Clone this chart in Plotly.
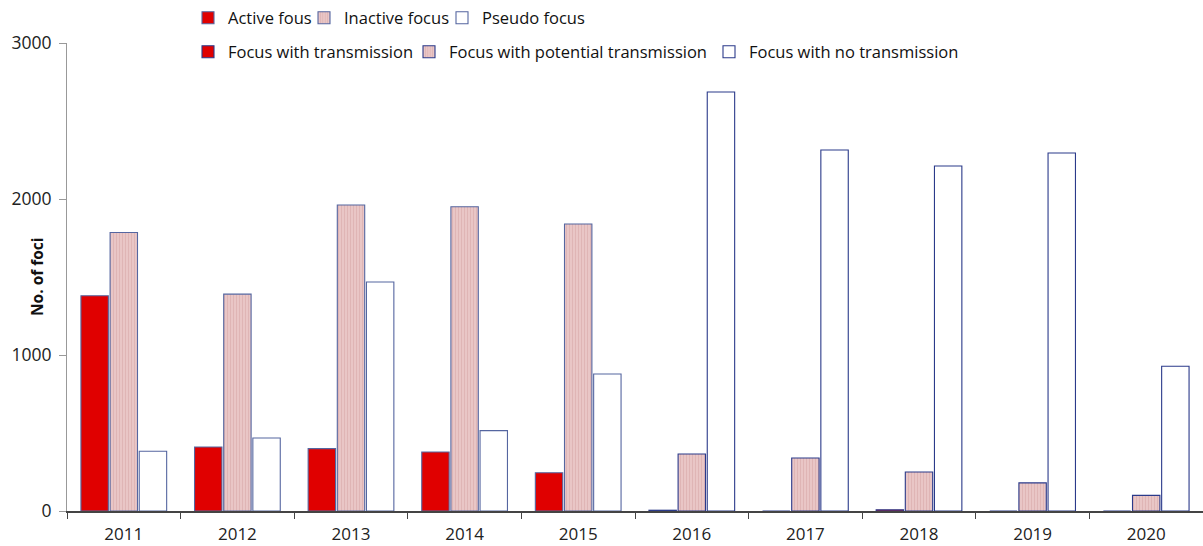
import plotly.graph_objects as go

years = ["2011", "2012", "2013", "2014", "2015", "2016", "2017", "2018", "2019", "2020"]
years_a = years[:5]
years_b = years[5:]

active = [1380, 410, 400, 378, 245]
inactive = [1785, 1390, 1962, 1950, 1840]
pseudo = [383, 468, 1468, 515, 878]

transmission = [5, 0, 8, 0, 0]
potential = [365, 340, 250, 180, 100]
no_transmission = [2686, 2314, 2212, 2295, 928]

RED = "#e00000"
PINK = "#e9c6c6"
PINK_LINE = "#d6a3a3"
NAVY_DASH = "#5566a0"
NAVY = "#2b3a8a"

# plot area in pixels (for legend placement)
L, R, T, B = 67, 0, 43, 35
W, H = 1203, 546
PW, PH = W - L - R, H - T - B

fig = go.Figure()

def add(name, x, y, group, fill, line_color, legend, pattern=False, lw=1.1):
    marker = dict(color=fill, line=dict(color=line_color, width=lw))
    if pattern:
        marker["pattern"] = dict(shape="|", fgcolor=PINK_LINE, bgcolor=fill, size=3, solidity=0.35)
    fig.add_trace(go.Bar(name=name, x=x, y=y, offsetgroup=group, marker=marker, legend=legend))

add("Active fous", years_a, active, "1", RED, NAVY_DASH, "legend")
add("Inactive focus", years_a, inactive, "2", PINK, NAVY_DASH, "legend2", pattern=True)
add("Pseudo focus", years_a, pseudo, "3", "white", NAVY_DASH, "legend3")
add("Focus with transmission", years_b, transmission, "1", RED, NAVY, "legend4")
add("Focus with potential transmission", years_b, potential, "2", PINK, NAVY, "legend5", pattern=True)
add("Focus with no transmission", years_b, no_transmission, "3", "white", NAVY, "legend6")

font = "Open Sans, Liberation Sans, sans-serif"

# text start pixel positions of legend entries, and row centers
legend_spec = [
    ("legend", 228, 18), ("legend2", 344, 18), ("legend3", 482, 18),
    ("legend4", 228, 52), ("legend5", 449, 52), ("legend6", 749, 52),
]
legends = {}
for key, tx, cy in legend_spec:
    legends[key] = dict(
        orientation="h", x=(tx - 40 - L) / PW, xanchor="left",
        y=(H - B - cy) / PH, yanchor="middle",
        font=dict(size=16.5, color="#111"), itemwidth=30,
        bgcolor="rgba(0,0,0,0)", borderwidth=0,
    )

fig.update_layout(
    width=W, height=H,
    margin=dict(l=L, r=R, t=T, b=B, autoexpand=False),
    plot_bgcolor="white", paper_bgcolor="white",
    barmode="group", bargap=0.23, bargroupgap=0.06,
    font=dict(family=font, size=17, color="#222"),
    showlegend=True,
    **legends,
)
fig.add_annotation(text="<b>No. of foci</b>", xref="paper", yref="paper",
                   x=(37 - L) / PW, y=0.5, xanchor="center", yanchor="middle",
                   textangle=-90, showarrow=False,
                   font=dict(size=15.5, color="#111"))
fig.update_xaxes(type="category", categoryorder="array", categoryarray=years,
                 showline=True, linecolor="#444", linewidth=1.5,
                 ticks="outside", tickson="boundaries", ticklen=6, tickcolor="#444",
                 showgrid=False, tickfont=dict(size=17, color="#222"),
                 ticklabelstandoff=7, automargin=False)
fig.update_yaxes(range=[0, 3000], dtick=1000, showline=True, linecolor="#999", linewidth=1,
                 ticks="outside", ticklen=7, tickcolor="#999", showgrid=False, zeroline=False,
                 tickfont=dict(size=17.5, color="#222"), ticklabelstandoff=4, automargin=False)

fig.write_html("out.html", config={"displayModeBar": False},
               post_script="document.body.style.margin='0';")
